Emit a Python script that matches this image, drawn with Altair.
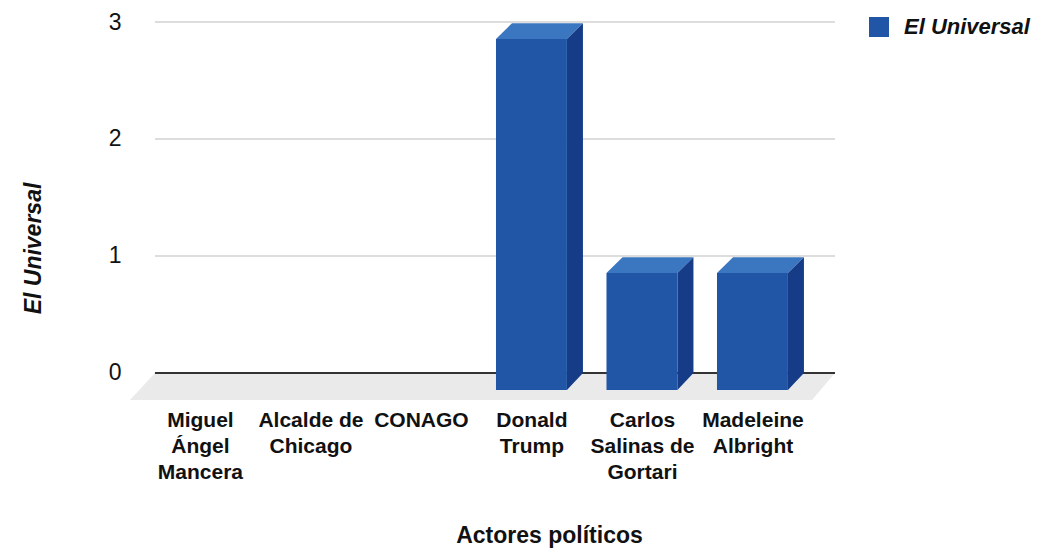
import altair as alt
import pandas as pd

# ---- data ----
categories = ["Miguel\nÁngel\nMancera", "Alcalde de\nChicago", "CONAGO",
              "Donald\nTrump", "Carlos\nSalinas de\nGortari", "Madeleine\nAlbright"]
values = [0, 0, 0, 3, 1, 1]
series_name = "El Universal"
y_ticks = [0, 1, 2, 3]
x_title = "Actores políticos"

# ---- style constants (3D look) ----
BLUE = "#2156a6"
TOP = "#3b76c0"
SIDE = "#163c88"
FLOOR = "#eaeaea"
HW = 0.321   # half bar width (category units)
DX = 0.145   # depth x (category units)
DY = 0.145   # depth y (value units)
XMIN, XMAX = -0.778, 5.602
YMIN, YMAX = -0.231, 3
GX0, GX1 = -0.552, 5.602
FONT = "Liberation Sans"

front_rows, top_rows, side_rows = [], [], []
for i, (c, v) in enumerate(zip(categories, values)):
    if v <= 0:
        continue
    front_rows.append(dict(cat=c, series=series_name, x=i - HW - DX, x2=i + HW - DX, y=-DY, y2=v - DY))
    top_rows.append(dict(cat=c, y=v - DY, x=i - HW - DX, x2=i + HW - DX))
    top_rows.append(dict(cat=c, y=v - 0.01, x=i - HW, x2=i + HW))
    side_rows.append(dict(cat=c, x=i + HW - DX, y=v - DY, y2=-DY))
    side_rows.append(dict(cat=c, x=i + HW, y=v - 0.01, y2=0))
front_df = pd.DataFrame(front_rows)
top_df = pd.DataFrame(top_rows)
side_df = pd.DataFrame(side_rows)
floor_df = pd.DataFrame([dict(y=YMIN, x=XMIN, x2=GX1 - 0.208), dict(y=0, x=GX0, x2=GX1)])
grid_df = pd.DataFrame([dict(y=t, x=GX0, x2=GX1) for t in y_ticks if t != 0])
zero_df = pd.DataFrame([dict(y=0, x=GX0, x2=GX1)])

label_arr = "[" + ",".join("[" + ",".join("'" + p + "'" for p in c.split("\n")) + "]" for c in categories) + "]"

xs = alt.Scale(domain=[XMIN, XMAX], nice=False, zero=False)
ys = alt.Scale(domain=[YMIN, YMAX], nice=False, zero=False)

xaxis = alt.Axis(values=[i - DX for i in range(len(categories))],
                 labelExpr=label_arr + "[round(datum.value + %s)]" % DX,
                 domain=False, ticks=False, grid=False, labelFlush=False, labelOverlap=False,
                 labelAlign="center", labelBaseline="top", labelPadding=9,
                 labelFont=FONT, labelFontSize=21, labelFontWeight="bold", labelColor="#111",
                 labelLineHeight=26,
                 title=x_title, titleFont=FONT, titleFontSize=23, titleFontWeight="bold",
                 titleColor="#111", titleX=419, titleY=135, titleBaseline="middle", titleAlign="center")
yaxis = alt.Axis(values=y_ticks, domain=False, ticks=False, grid=False,
                 labelFont=FONT, labelFontSize=23, labelColor="#111", labelPadding=9,
                 title=series_name, titleFont=FONT, titleFontSize=23, titleFontWeight="bold",
                 titleFontStyle="italic", titleColor="#111", titleX=-97, titleY=226,
                 titleAlign="center", titleBaseline="middle", titleAngle=270)


def X(f="x"):
    return alt.X(f + ":Q", scale=xs, axis=xaxis)


def Y(f="y"):
    return alt.Y(f + ":Q", scale=ys, axis=yaxis, stack=None)


floor = alt.Chart(floor_df).mark_area(orient="horizontal", color=FLOOR).encode(
    y=Y(), x=X(), x2="x2:Q")
grid = alt.Chart(grid_df).mark_rule(color="#d2d2d2", strokeWidth=1.5).encode(
    y=Y(), x=X(), x2="x2:Q")
zero = alt.Chart(zero_df).mark_rule(color="#333333", strokeWidth=2).encode(
    y=Y(), x=X(), x2="x2:Q")
top = alt.Chart(top_df).mark_area(orient="horizontal", color=TOP).encode(
    y=Y(), x=X(), x2="x2:Q", detail="cat:N")
side = alt.Chart(side_df).mark_area(orient="vertical", color=SIDE).encode(
    x=X(), y=Y(), y2="y2:Q", detail="cat:N")
front = alt.Chart(front_df).mark_rect().encode(
    x=X(), x2="x2:Q", y=Y(), y2="y2:Q",
    color=alt.Color("series:N", scale=alt.Scale(range=[BLUE]),
                    legend=alt.Legend(title=None, orient="none", legendX=738, legendY=-6,
                                      symbolType="square", symbolSize=400, symbolStrokeWidth=0,
                                      symbolFillColor=BLUE, labelFont=FONT, labelFontSize=22,
                                      labelFontWeight="bold", labelFontStyle="italic",
                                      labelColor="#111", labelOffset=14)))

chart = alt.layer(floor, grid, zero, top, side, front).properties(
    width=705, height=378,
    autosize=alt.AutoSizeParams(type="none"),
    padding={"left": 122, "top": 14, "right": 210, "bottom": 150},
).configure(background="white").configure_view(stroke=None, strokeWidth=0)

chart.save("out.html", embed_options={"renderer": "svg", "actions": False})
